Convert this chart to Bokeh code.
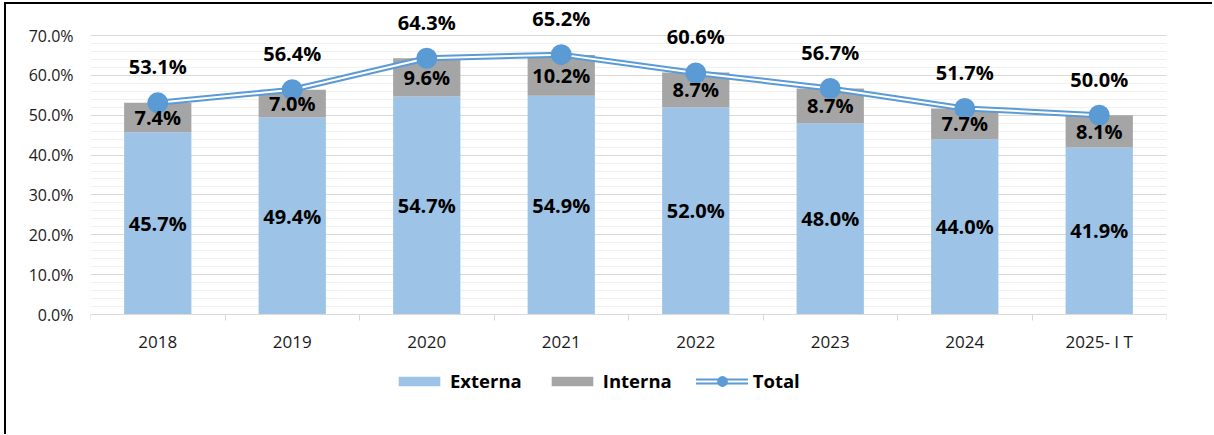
from bokeh.plotting import figure
from bokeh.models import (ColumnDataSource, FixedTicker, PrintfTickFormatter,
                          Legend, LegendItem, Range1d)
from bokeh.core.properties import value
from bokeh.embed import file_html
from bokeh.resources import INLINE

categories = ["2018", "2019", "2020", "2021", "2022", "2023", "2024", "2025- I T"]
externa = [45.7, 49.4, 54.7, 54.9, 52.0, 48.0, 44.0, 41.9]
interna = [7.4, 7.0, 9.6, 10.2, 8.7, 8.7, 7.7, 8.1]
total = [53.1, 56.4, 64.3, 65.2, 60.6, 56.7, 51.7, 50.0]
y_ticks = [0, 10, 20, 30, 40, 50, 60, 70]
y_minor = [v for v in range(0, 71, 2) if v % 10]

FONT = "Open Sans"
C_EXT = "#9DC3E6"
C_INT = "#A5A5A5"
C_TOT = "#5B9BD5"

# layout (pixels)
FRAME_W, FRAME_H = 1076, 386
PX_PER = 279 / 70          # pixels per percentage point
TOP_PAD, BOTTOM_PAD = 28, 79  # frame space above 70% and below 0%

n = len(categories)
xs = [i + 0.5 for i in range(n)]
src = ColumnDataSource(dict(
    x=xs,
    ext=externa,
    top2=[e + i for e, i in zip(externa, interna)],
    tot=total,
    ext_mid=[e / 2 for e in externa],
    int_mid=[e + i / 2 for e, i in zip(externa, interna)],
    ext_lbl=[f"{v:.1f}%" for v in externa],
    int_lbl=[f"{v:.1f}%" for v in interna],
    tot_lbl=[f"{v:.1f}%" for v in total],
))

p = figure(frame_width=FRAME_W, frame_height=FRAME_H,
           x_range=Range1d(0, n),
           y_range=Range1d(-BOTTOM_PAD / PX_PER, 70 + TOP_PAD / PX_PER),
           output_backend="svg", toolbar_location=None,
           min_border_left=84, min_border_right=46, min_border_top=3, min_border_bottom=41)
p.styles = {"margin-left": "4px", "margin-top": "2px",
            "border-left": "2px solid black", "border-top": "2px solid black"}
p.outline_line_color = None
p.background_fill_color = "white"

# grid
p.xgrid.visible = False
p.yaxis.ticker = FixedTicker(ticks=y_ticks, minor_ticks=y_minor)
p.ygrid.grid_line_color = "#D9D9D9"
p.ygrid.grid_line_width = 1
p.ygrid.minor_grid_line_color = "#F0F0F0"

# y axis
p.yaxis.axis_line_color = None
p.yaxis.major_tick_line_color = None
p.yaxis.minor_tick_line_color = None
p.yaxis.formatter = PrintfTickFormatter(format="%.1f%%")
p.yaxis.major_label_text_font = FONT
p.yaxis.major_label_text_font_size = "16px"
p.yaxis.major_label_text_color = "#1a1a1a"
p.yaxis.major_label_standoff = 11

# x axis, drawn at y = 0
p.xaxis.fixed_location = 0
p.xaxis.ticker = FixedTicker(ticks=xs, minor_ticks=list(range(n + 1)))
p.xaxis.major_label_overrides = {x: c for x, c in zip(xs, categories)}
p.xaxis.major_tick_line_color = None
p.xaxis.major_tick_out = 0
p.xaxis.minor_tick_line_color = "#D9D9D9"
p.xaxis.minor_tick_in = 0
p.xaxis.minor_tick_out = 6
p.xaxis.axis_line_color = "#D9D9D9"
p.xaxis.major_label_text_font = FONT
p.xaxis.major_label_text_font_size = "17px"
p.xaxis.major_label_text_color = "#1a1a1a"
p.xaxis.major_label_standoff = 9

# bars
r_ext = p.vbar(x="x", bottom=0, top="ext", width=0.5, source=src,
               fill_color=C_EXT, line_color=None)
r_int = p.vbar(x="x", bottom="ext", top="top2", width=0.5, source=src,
               fill_color=C_INT, line_color=None)

# total line (double)
r_l1 = p.line(x="x", y="tot", source=src, line_color=C_TOT, line_width=6, line_cap="round")
r_l2 = p.line(x="x", y="tot", source=src, line_color="white", line_width=2, line_cap="round")
r_pt = p.scatter(x="x", y="tot", source=src, size=15, fill_color=C_TOT,
                 line_color=C_TOT, line_width=6)

lbl_kw = dict(text_align="center", text_baseline="middle", text_font=value(FONT),
              text_font_size="20px", text_font_style="bold", text_color="black", source=src)
p.text(x="x", y="ext_mid", text="ext_lbl", **lbl_kw)
p.text(x="x", y="int_mid", text="int_lbl", **lbl_kw)
p.text(x="x", y="tot", text="tot_lbl", y_offset=-36, **lbl_kw)

legend = Legend(items=[LegendItem(label="Externa", renderers=[r_ext]),
                       LegendItem(label="Interna", renderers=[r_int]),
                       LegendItem(label="Total", renderers=[r_l1, r_l2, r_pt])],
                orientation="horizontal", location=(303, 0),
                label_text_font=FONT, label_text_font_size="18.5px",
                label_text_font_style="bold", label_text_color="black", label_standoff=5,
                padding=0, margin=0, spacing=24, border_line_color=None,
                background_fill_alpha=0, glyph_width=52, glyph_height=12)
p.add_layout(legend)

open("out.html", "w").write(file_html(p, INLINE))
